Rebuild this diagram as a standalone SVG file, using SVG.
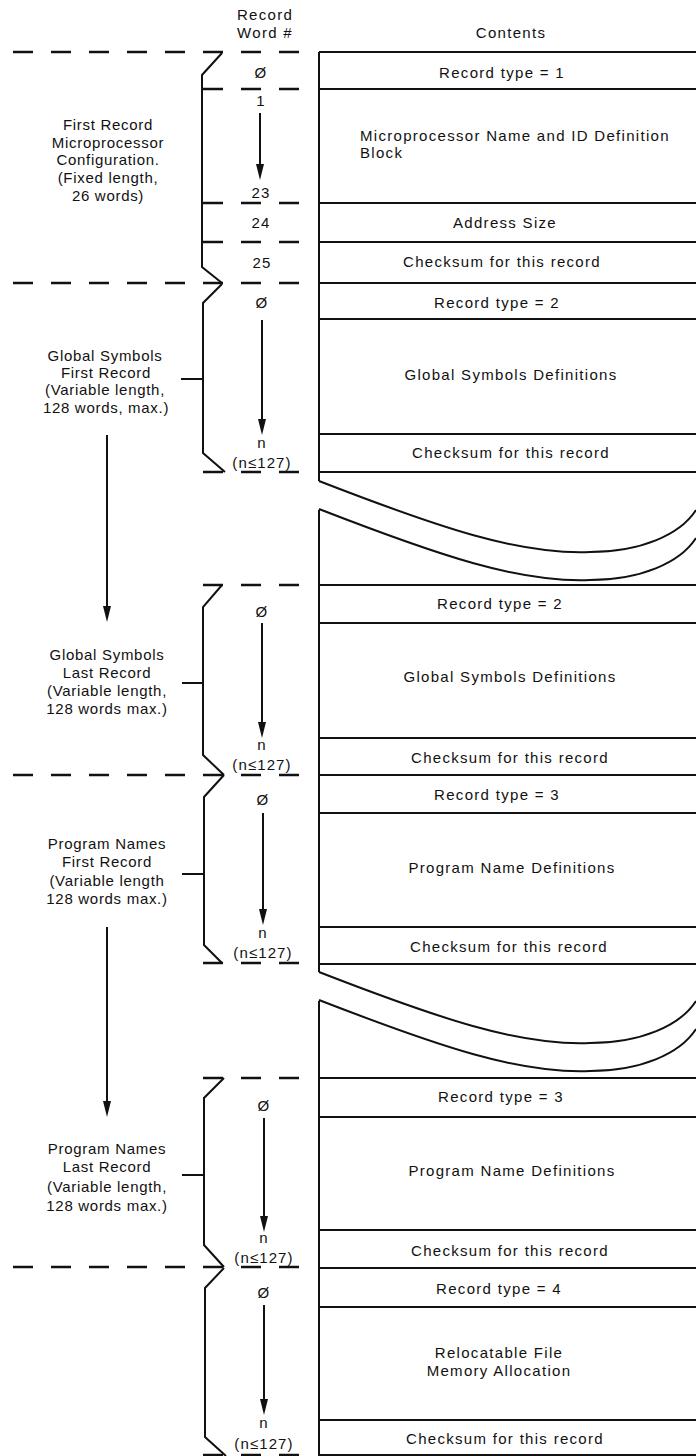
<svg xmlns="http://www.w3.org/2000/svg" width="696" height="1456" viewBox="0 0 696 1456">
<style>
  text { font-family: "Liberation Sans", Arial, sans-serif; font-size: 15px; fill: #111; letter-spacing: 1.3px; }
  .c { text-anchor: middle; }
  .lbl { text-anchor: middle; letter-spacing: 0.7px; }
  .num { font-size: 15px; letter-spacing: 1.1px; text-anchor: middle; }
  .solid { stroke: #111; stroke-width: 2; fill: none; }
  .dash { stroke: #111; stroke-width: 2.5; stroke-dasharray: 20 18; fill: none; }
  .brace { stroke: #111; stroke-width: 2; fill: none; stroke-linejoin: miter; }
  .arrow { stroke: #111; stroke-width: 2; fill: none; marker-end: url(#ah); }
</style>
<defs>
  <marker id="ah" markerUnits="userSpaceOnUse" viewBox="0 0 16 8" markerWidth="16" markerHeight="8" refX="6" refY="4" orient="auto">
    <path d="M0,0 L16,4 L0,8 z" fill="#111"/>
  </marker>
  <path id="wave" d="M319,0 C440,47 520,74 590,71 C640,71 680,54 696,29"/>
</defs>
<rect width="696" height="1456" fill="#fff"/>

<g id="header">
  <text class="c" x="265" y="20">Record</text>
  <text class="c" x="265" y="38">Word #</text>
  <text class="c" x="511" y="38">Contents</text>
</g>

<g id="separators">
  <line class="dash" x1="13" y1="52" x2="300" y2="52"/>
  <line class="dash" x1="203" y1="89" x2="300" y2="89"/>
  <line class="dash" x1="203" y1="203" x2="300" y2="203"/>
  <line class="dash" x1="203" y1="242" x2="300" y2="242"/>
  <line class="dash" x1="13" y1="283" x2="300" y2="283"/>
  <line class="dash" x1="203" y1="472" x2="300" y2="472"/>
  <line class="dash" x1="203" y1="585" x2="300" y2="585"/>
  <line class="dash" x1="13" y1="775" x2="300" y2="775"/>
  <line class="dash" x1="203" y1="963" x2="300" y2="963"/>
  <line class="dash" x1="203" y1="1078" x2="300" y2="1078"/>
  <line class="dash" x1="13" y1="1267" x2="300" y2="1267"/>
  <line class="dash" x1="203" y1="1455" x2="300" y2="1455"/>
</g>

<g id="contents-frame">
  <path class="solid" d="M319,52 V481 M319,510 V972 M319,1001 V1456"/>
  <use href="#wave" class="solid" transform="translate(0,481)"/>
  <use href="#wave" class="solid" transform="translate(0,509)"/>
  <use href="#wave" class="solid" transform="translate(0,972)"/>
  <use href="#wave" class="solid" transform="translate(0,1000)"/>
</g>

<g id="record-1">
  <text class="lbl" x="108" y="130">First Record</text>
  <text class="lbl" x="108" y="148">Microprocessor</text>
  <text class="lbl" x="108" y="165">Configuration.</text>
  <text class="lbl" x="108" y="183">(Fixed length,</text>
  <text class="lbl" x="108" y="201">26 words)</text>
  <path class="brace" d="M222,53 L202,75 L202,267 L222,283"/>
  <text class="num" x="261" y="78">Ø</text>
  <text class="num" x="261" y="106">1</text>
  <text class="num" x="261" y="198">23</text>
  <text class="num" x="261" y="228">24</text>
  <text class="num" x="262" y="268">25</text>
  <path class="solid" d="M319,52 H696 M319,89 H696 M319,203 H696 M319,242 H696 M319,283 H696"/>
  <text class="c" x="502" y="78">Record type = 1</text>
  <text x="360" y="141">Microprocessor Name and ID Definition</text>
  <text x="360" y="158">Block</text>
  <text class="c" x="505" y="228">Address Size</text>
  <text class="c" x="502" y="267">Checksum for this record</text>
</g>

<g id="record-2">
  <text class="lbl" x="105" y="361">Global Symbols</text>
  <text class="lbl" x="106" y="378">First Record</text>
  <text class="lbl" x="105" y="395">(Variable length,</text>
  <text class="lbl" x="106" y="413">128 words, max.)</text>
  <path class="brace" d="M222,284 L203,303 L203,453 L225,472 M181,379 H203"/>
  <text class="num" x="262" y="308">Ø</text>
  <text class="num" x="262" y="448">n</text>
  <text class="num" x="262" y="468">(n≤127)</text>
  <path class="solid" d="M319,319 H696 M319,434 H696 M319,472 H696"/>
  <text class="c" x="497" y="308">Record type = 2</text>
  <text class="c" x="511" y="380">Global Symbols Definitions</text>
  <text class="c" x="511" y="458">Checksum for this record</text>
</g>

<g id="record-3">
  <text class="lbl" x="107" y="660">Global Symbols</text>
  <text class="lbl" x="107" y="678">Last Record</text>
  <text class="lbl" x="107" y="696">(Variable length,</text>
  <text class="lbl" x="107" y="714">128 words max.)</text>
  <path class="brace" d="M222,585 L203,607 L203,755 L224,775 M182,683 H203"/>
  <text class="num" x="262" y="617">Ø</text>
  <text class="num" x="262" y="750">n</text>
  <text class="num" x="262" y="770">(n≤127)</text>
  <path class="solid" d="M319,585 H696 M319,623 H696 M319,738 H696 M319,775 H696"/>
  <text class="c" x="500" y="609">Record type = 2</text>
  <text class="c" x="510" y="682">Global Symbols Definitions</text>
  <text class="c" x="510" y="763">Checksum for this record</text>
</g>

<g id="record-4">
  <text class="lbl" x="107" y="849">Program Names</text>
  <text class="lbl" x="107" y="867">First Record</text>
  <text class="lbl" x="107" y="886">(Variable length</text>
  <text class="lbl" x="107" y="904">128 words max.)</text>
  <path class="brace" d="M224,775 L204,797 L204,945 L222,963 M182,874 H204"/>
  <text class="num" x="263" y="805">Ø</text>
  <text class="num" x="263" y="938">n</text>
  <text class="num" x="263" y="958">(n≤127)</text>
  <path class="solid" d="M319,813 H696 M319,927 H696 M319,964 H696"/>
  <text class="c" x="497" y="800">Record type = 3</text>
  <text class="c" x="512" y="873">Program Name Definitions</text>
  <text class="c" x="509" y="952">Checksum for this record</text>
</g>

<g id="record-5">
  <text class="lbl" x="107" y="1154">Program Names</text>
  <text class="lbl" x="107" y="1172">Last Record</text>
  <text class="lbl" x="107" y="1192">(Variable length,</text>
  <text class="lbl" x="107" y="1211">128 words max.)</text>
  <path class="brace" d="M224,1078 L204,1098 L204,1245 L224,1267 M182,1175 H204"/>
  <text class="num" x="264" y="1111">Ø</text>
  <text class="num" x="264" y="1243">n</text>
  <text class="num" x="264" y="1263">(n≤127)</text>
  <path class="solid" d="M319,1078 H696 M319,1117 H696 M319,1230 H696 M319,1268 H696"/>
  <text class="c" x="501" y="1102">Record type = 3</text>
  <text class="c" x="512" y="1176">Program Name Definitions</text>
  <text class="c" x="510" y="1256">Checksum for this record</text>
</g>

<g id="record-6">
  <path class="brace" d="M224,1268 L205,1288 L205,1437 L226,1456"/>
  <text class="num" x="264" y="1298">Ø</text>
  <text class="num" x="264" y="1428">n</text>
  <text class="num" x="264" y="1449">(n≤127)</text>
  <path class="solid" d="M319,1307 H696 M319,1420 H696 M319,1455 H696"/>
  <text class="c" x="499" y="1294">Record type = 4</text>
  <text class="c" x="499" y="1358">Relocatable File</text>
  <text class="c" x="499" y="1376">Memory Allocation</text>
  <text class="c" x="505" y="1444">Checksum for this record</text>
</g>

<g id="connectors">
  <line class="arrow" x1="260" y1="113" x2="260" y2="170"/>
  <line class="arrow" x1="262" y1="320" x2="262" y2="425"/>
  <line class="arrow" x1="262" y1="623" x2="262" y2="728"/>
  <line class="arrow" x1="263" y1="813" x2="263" y2="915"/>
  <line class="arrow" x1="264" y1="1118" x2="264" y2="1222"/>
  <line class="arrow" x1="264" y1="1305" x2="264" y2="1405"/>
  <line class="arrow" x1="107" y1="435" x2="107" y2="612"/>
  <line class="arrow" x1="107" y1="927" x2="107" y2="1107"/>
</g>
</svg>
